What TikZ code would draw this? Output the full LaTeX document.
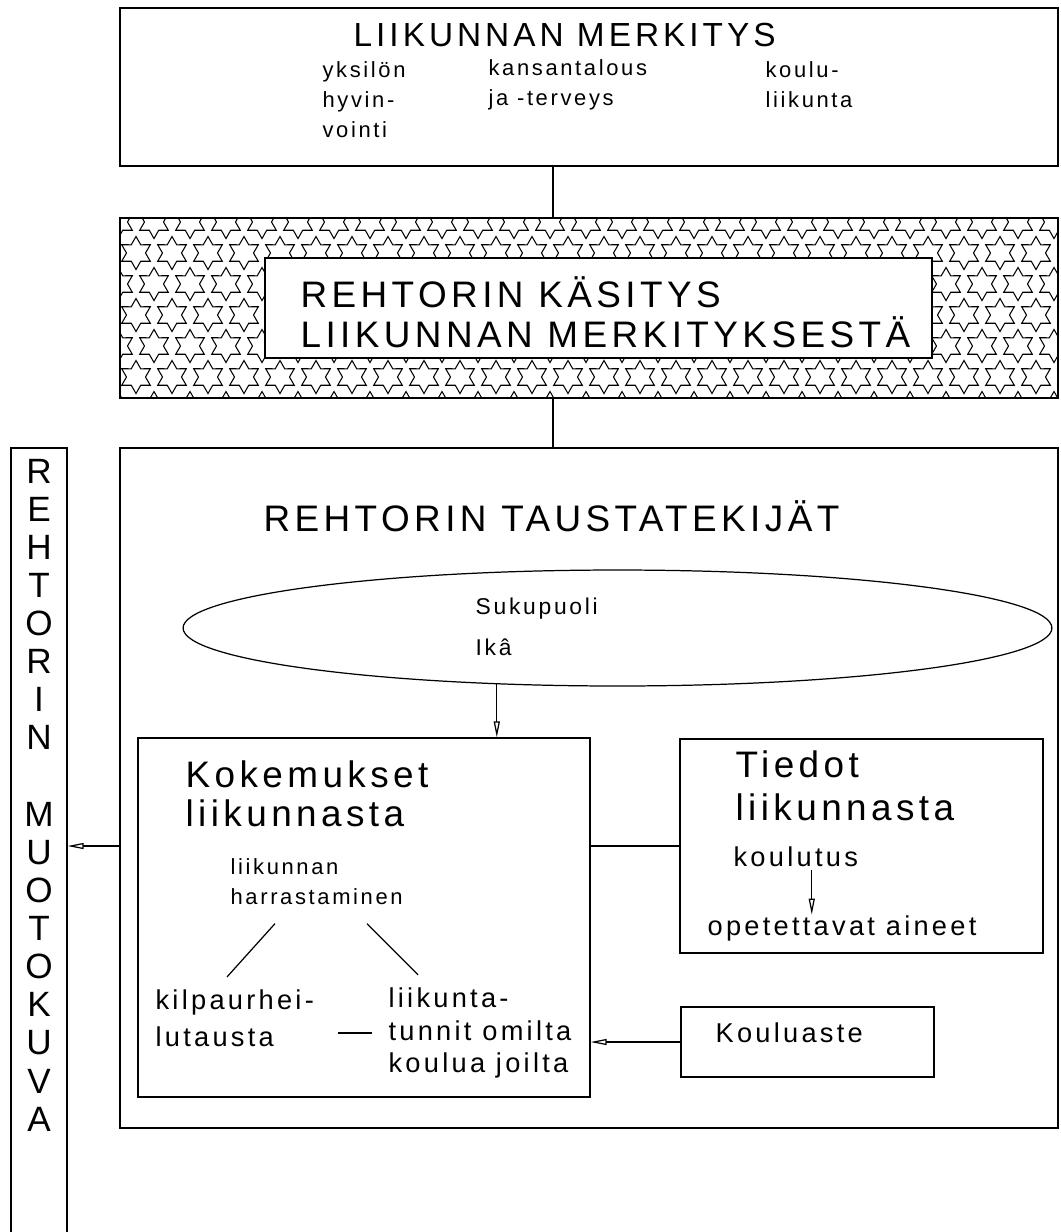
\documentclass[tikz,border=0pt]{standalone}
\usepackage{fontspec}
\setmainfont{Liberation Sans}[LetterSpace=12]
\usetikzlibrary{arrows.meta,shapes.geometric,calc}

\newcommand{\otsikko}{\fontsize{21}{23}\selectfont}
\newcommand{\iso}{\fontsize{21}{22.5}\selectfont}
\newcommand{\keski}{\fontsize{15.5}{19.5}\selectfont}
\newcommand{\pieni}{\fontsize{12.5}{17}\selectfont}

\tikzset{
  laatikko/.style={draw, inner sep=0pt},
  teksti/.style={inner sep=0pt, anchor=west, align=left},
  nuoli/.style={-{Triangle[open,length=0.32cm,width=0.12cm]}},
  tahti/.pic={\draw[line width=0.6pt] (90:16.5) -- (120:9.5) -- (150:16.5) -- (180:9.5) -- (210:16.5)
     -- (240:9.5) -- (270:16.5) -- (300:9.5) -- (330:16.5) -- (0:9.5) -- (30:16.5) -- (60:9.5) -- cycle;}
}

\begin{document}
\begin{tikzpicture}[x=0.02cm, y=-0.02cm, line width=0.7pt]
\useasboundingbox (0,0) rectangle (1061,1232);

% liikunnan merkitys
\node[laatikko, minimum width=18.76cm, minimum height=3.16cm] (merkitys) at (589,87) {};
\node[teksti, font=\fontsize{19}{23}\selectfont] (merkitysotsikko) at (353,35) {LIIKUNNAN MERKITYS};
\node[teksti, font=\pieni] (yksilo) at (322,100) {yksilön\\hyvin-\\vointi};
\node[teksti, font=\pieni] (kansa) at (488,85) {kansantalous\\ja -terveys};
\node[teksti, font=\pieni] (koulu) at (765,85) {koulu-\\liikunta};

% rehtorin kasitys, tahtikuvio
\node[laatikko, minimum width=18.76cm, minimum height=3.6cm] (kasitys) at (589,308) {};
\begin{scope}
  \clip (kasitys.south west) rectangle (kasitys.north east);
  \foreach \i in {0,...,6}
    \foreach \j in {0,...,26}
      \pic at ({118+36*\j+18*mod(\i,2)},{222+31*\i}) {tahti};
\end{scope}
\node[laatikko, fill=white, minimum width=13.34cm, minimum height=2cm] (kasitysruutu) at (598.5,308) {};
\node[teksti, font=\otsikko] (kasitysotsikko) at (300,312) {REHTORIN KÄSITYS\\LIIKUNNAN MERKITYKSESTÄ};

% taustatekijat
\node[laatikko, minimum width=18.76cm, minimum height=13.6cm] (tausta) at (589,788) {};
\node[teksti, font=\otsikko] (taustaotsikko) at (263,516) {REHTORIN TAUSTATEKIJÄT};
\node[draw, ellipse, inner sep=0pt, minimum width=17.38cm, minimum height=2.32cm] (tekijat) at (617.5,628) {};
\node[teksti, font=\fontsize{13}{23}\selectfont] (sukupuoli) at (475,627) {Sukupuoli\\Ikâ};

\node[laatikko, minimum width=9.04cm, minimum height=7.18cm] (kokemukset) at (364,917.5) {};
\node[teksti, font=\iso] (kokemusotsikko) at (185,794) {Kokemukset\\liikunnasta};
\node[teksti, font=\pieni] (harrastus) at (230,882) {liikunnan\\harrastaminen};
\node[teksti, font=\fontsize{15.5}{21}\selectfont] (kilpa) at (155,1018) {kilpaurhei-\\lutausta};
\node[teksti, font=\fontsize{15.5}{18.7}\selectfont] (tunnit) at (388,1033) {liikunta-\\tunnit omilta\\koulua joilta};

\node[laatikko, minimum width=7.26cm, minimum height=4.28cm] (tiedot) at (861.5,846) {};
\node[teksti, font=\fontsize{21}{24.4}\selectfont] (tiedototsikko) at (735,786) {Tiedot\\liikunnasta};
\node[teksti, font=\keski] (koulutus) at (733,857) {koulutus};
\node[teksti, font=\keski] (aineet) at (707,928) {opetettavat aineet};

\node[laatikko, minimum width=5.06cm, minimum height=1.4cm] (kouluaste) at (807.5,1042) {};
\node[teksti, font=\keski] (kouluastenimi) at (715,1033) {Kouluaste};

% rehtorin muotokuva
\node[laatikko, minimum width=1.12cm, minimum height=15.94cm] (muotokuva) at (39,846.5) {};
\node[inner sep=0pt, align=center, font=\fontsize{20}{21.7}\selectfont] (muotokuvateksti) at (39,795)
  {R\\E\\H\\T\\O\\R\\I\\N\\[21.7pt]M\\U\\O\\T\\O\\K\\U\\V\\A};

% yhteydet
\coordinate (liitos) at (553,0);
\draw (merkitys.south -| liitos) -- (kasitys.north -| liitos);
\draw (kasitys.south -| liitos) -- (tausta.north -| liitos);
\draw[nuoli] (tekijat.-155) -- (tekijat.-155 |- kokemukset.north);
\draw (kokemukset.east |- tiedot.west) -- (tiedot.west);
\draw[nuoli] (tausta.west |- tiedot.west) -- (muotokuva.east |- tiedot.west);
\draw[nuoli] (kouluaste.west) -- (kokemukset.east |- kouluaste.west);
\coordinate (koulutusnuoli) at ($(koulutus.south)+(16,2)$);
\draw[nuoli] (koulutusnuoli) -- (koulutusnuoli |- aineet.north);
\draw ($(harrastus.south west)+(45,18)$) -- ($(kilpa.north west)+(72,-12)$);
\draw ($(harrastus.south west)+(137,18)$) -- ($(tunnit.north west)+(30,-12)$);
\draw ($(tunnit.west)+(-50,0)$) -- ($(tunnit.west)+(-16,0)$);
\end{tikzpicture}
\end{document}
